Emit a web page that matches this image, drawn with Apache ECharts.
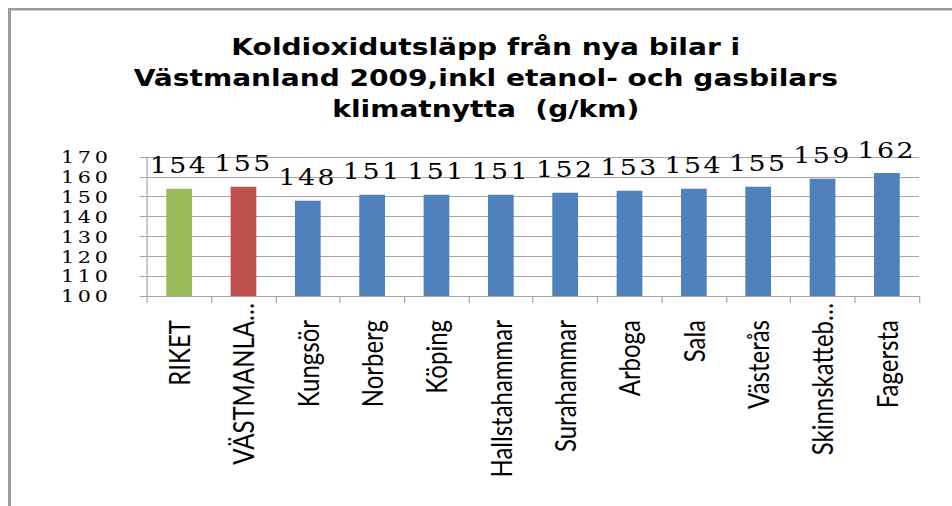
<!DOCTYPE html>
<html>
<head>
<meta charset="utf-8">
<script src="https://cdn.jsdelivr.net/npm/echarts@6/dist/echarts.min.js"></script>
<style>
    html, body { margin: 0; padding: 0; background: #fff; overflow: hidden; }
    /* the original picture is stretched sideways, so the whole chart is too */
    #chart { width: 780px; height: 506px; transform: scaleX(1.2205); transform-origin: 0 0; }
    #chart text[style*="DejaVu Serif"] { letter-spacing: 2px; }
    #chart text[style*="DejaVu Serif"][style*="17px"] { letter-spacing: 3px; }
</style>
</head>
<body>
<div id="chart"></div>
<script>
    const categories = ['RIKET', 'VÄSTMANLA…', 'Kungsör', 'Norberg', 'Köping', 'Hallstahammar',
        'Surahammar', 'Arboga', 'Sala', 'Västerås', 'Skinnskatteb…', 'Fagersta'];
    const emissions = [154, 155, 148, 151, 151, 151, 152, 153, 154, 155, 159, 162];
    const yTicks = [100, 110, 120, 130, 140, 150, 160, 170];

    const titleText = 'Koldioxidutsläpp från nya bilar i\nVästmanland 2009,inkl etanol- och gasbilars\nklimatnytta  (g/km)';

    const GREEN = '#9bbb59';
    const RED = '#c0504d';
    const BLUE = '#4f81bd';
    const GRID_COLOR = '#a6a6a6';

    document.addEventListener('DOMContentLoaded', function () {
        const chartDom = document.getElementById('chart');
        const myChart = echarts.init(chartDom, null, { renderer: 'svg' });

        // truncated names sit a little closer to the axis in the original
        const axisData = categories.map(function (name) {
            if (name.endsWith('…')) {
                return { value: name, textStyle: { padding: [0, -17, 0, 0] } };
            }
            return name;
        });

        const option = {
            animation: false,
            title: {
                text: titleText,
                left: 398,
                top: 31,
                padding: 0,
                textAlign: 'center',
                textStyle: {
                    fontFamily: 'DejaVu Sans',
                    fontWeight: 'bold',
                    fontSize: 23,
                    lineHeight: 31,
                    color: '#000'
                }
            },
            graphic: [
                {
                    type: 'rect',
                    silent: true,
                    shape: { x: 7.8, y: 9.3, width: 1000, height: 800 },
                    style: { fill: 'none', stroke: '#9c9c9c', lineWidth: 2.5 }
                }
            ],
            grid: {
                left: 120.4,
                right: 27,
                top: 157,
                bottom: 210,
                outerBoundsMode: 'none'
            },
            xAxis: {
                type: 'category',
                data: axisData,
                axisLine: { lineStyle: { color: GRID_COLOR, width: 1 } },
                axisTick: { show: true, length: 7, lineStyle: { color: GRID_COLOR } },
                axisLabel: {
                    interval: 0,
                    rotate: 90,
                    margin: 24,
                    color: '#000',
                    fontFamily: 'Lato',
                    fontSize: 24
                }
            },
            yAxis: {
                type: 'value',
                min: yTicks[0],
                max: yTicks[yTicks.length - 1],
                interval: 10,
                axisLine: { show: true, lineStyle: { color: GRID_COLOR, width: 1 } },
                axisTick: { show: true, length: 6, lineStyle: { color: GRID_COLOR } },
                splitLine: { lineStyle: { color: GRID_COLOR, width: 1 } },
                axisLabel: {
                    margin: 29,
                    color: '#000',
                    fontFamily: 'DejaVu Serif',
                    fontSize: 17
                }
            },
            series: [
                {
                    name: 'CO2',
                    type: 'bar',
                    barWidth: '40%',
                    data: emissions,
                    itemStyle: {
                        color: function (p) {
                            if (p.dataIndex === 0) return GREEN;
                            if (p.dataIndex === 1) return RED;
                            return BLUE;
                        }
                    },
                    label: {
                        show: true,
                        position: 'top',
                        distance: 12,
                        color: '#000',
                        fontFamily: 'DejaVu Serif',
                        fontSize: 22
                    }
                }
            ]
        };

        myChart.setOption(option);
    });
</script>
</body>
</html>
